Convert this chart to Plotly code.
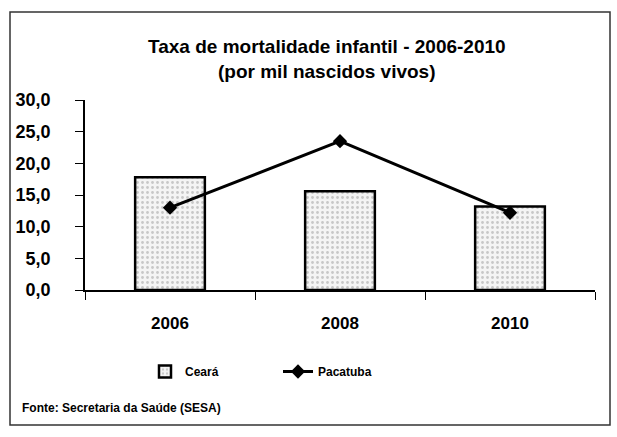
import plotly.graph_objects as go

anos = ["2006", "2008", "2010"]
ceara = [17.8, 15.6, 13.2]
pacatuba = [13.0, 23.5, 12.2]
y_ticks = [0, 5, 10, 15, 20, 25, 30]
y_tick_labels = ["0,0", "5,0", "10,0", "15,0", "20,0", "25,0", "30,0"]

W, H = 617, 437
L, R, T, B = 85, 22, 100, 147
pw, ph = W - L - R, H - T - B

def px(x):
    return (x - L) / pw

def py(y):
    return (H - B - y) / ph

fig = go.Figure()
fig.add_trace(go.Bar(
    x=anos, y=ceara, name="Ceará", width=0.41,
    marker=dict(color="#f2f2f2", line=dict(color="black", width=2.5),
                pattern=dict(shape=".", fgcolor="#9a9a9a", bgcolor="#f4f4f4", size=5, solidity=0.25)),
))
fig.add_trace(go.Scatter(
    x=anos, y=pacatuba, name="Pacatuba", mode="lines+markers",
    line=dict(color="black", width=3),
    marker=dict(symbol="diamond", size=11, color="black"),
))

font = "Liberation Sans, Arial, sans-serif"
fig.update_layout(
    width=W, height=H,
    margin=dict(l=L, r=R, t=T, b=B),
    paper_bgcolor="white", plot_bgcolor="white",
    font=dict(family=font, color="black"),
    showlegend=True,
    legend=dict(orientation="h", x=px(145), y=py(357), xanchor="left", yanchor="top",
                font=dict(size=12, family=font, weight="bold"), bgcolor="rgba(0,0,0,0)",
                entrywidth=88),
    xaxis=dict(showline=True, linecolor="black", linewidth=1.5, ticks="outside",
               tickson="boundaries", ticklen=8, tickcolor="black", ticklabelstandoff=17,
               tickfont=dict(size=17, family=font, weight="bold"), showgrid=False),
    yaxis=dict(range=[0, 30], tickvals=y_ticks, ticktext=y_tick_labels,
               showline=True, linecolor="black", linewidth=1.5, ticks="outside",
               ticklen=8, tickcolor="black", showgrid=False, zeroline=False,
               ticklabelstandoff=21,
               tickfont=dict(size=18, family=font, weight="bold")),
    annotations=[
        dict(text="<b>Taxa de mortalidade infantil - 2006-2010</b>", xref="paper", yref="paper",
             x=px(327), y=py(46), showarrow=False, font=dict(size=19), xanchor="center", yanchor="middle"),
        dict(text="<b>(por mil nascidos vivos)</b>", xref="paper", yref="paper",
             x=px(327), y=py(71), showarrow=False, font=dict(size=19), xanchor="center", yanchor="middle"),
        dict(text="<b>Fonte: Secretaria da Saúde (SESA)</b>", xref="paper", yref="paper",
             x=px(20), y=py(408), showarrow=False, font=dict(size=12),
             xanchor="left", yanchor="middle"),
    ],
    shapes=[
        dict(type="rect", xref="paper", yref="paper", x0=px(10), x1=px(610), y0=py(12), y1=py(425),
             line=dict(color="#333", width=1.5), fillcolor="rgba(0,0,0,0)", layer="below"),
    ],
)

fig.write_html("out.html", config={"displayModeBar": False},
               post_script="document.body.style.margin='0';")
